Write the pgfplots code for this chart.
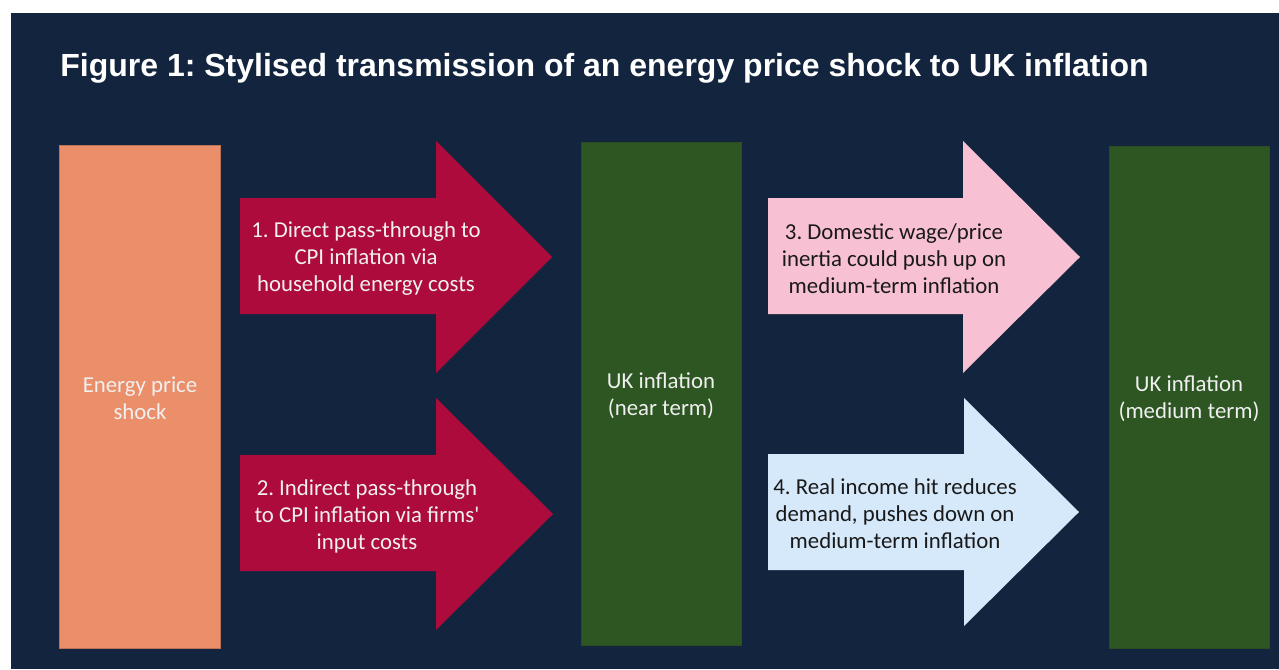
\documentclass[border=0pt]{standalone}
\usepackage{pgfplots}
\pgfplotsset{compat=1.18}
\usepackage{fontspec}
\setmainfont{Carlito}
\newfontfamily\titlefont{Liberation Sans}
\frenchspacing
\definecolor{navy}{HTML}{13253E}
\definecolor{orangebox}{HTML}{EB8F6B}
\definecolor{redarrow}{HTML}{AD0B3B}
\definecolor{greenbox}{HTML}{2D5623}
\definecolor{pinkarrow}{HTML}{F8C1D3}
\definecolor{bluearrow}{HTML}{D5E9FB}
\begin{document}
\begin{tikzpicture}
\begin{axis}[
  scale only axis, width=639.5pt, height=334.5pt,
  xmin=0, xmax=1279, ymin=0, ymax=669, y dir=reverse,
  hide axis, clip=false,
]
% background
\addplot[fill=white, draw=none] coordinates {(0,0) (1279,0) (1279,669) (0,669)} -- cycle;
\addplot[fill=navy, draw=none] coordinates {(11,13) (1279,13) (1279,669) (11,669)} -- cycle;
% boxes
\addplot[fill=orangebox, draw=orangebox!80!black, line width=0.4pt] coordinates {(59,145) (220,145) (220,648) (59,648)} -- cycle;
\addplot[fill=greenbox, draw=greenbox!90!black, line width=0.4pt] coordinates {(581,142) (741,142) (741,645) (581,645)} -- cycle;
\addplot[fill=greenbox, draw=greenbox!90!black, line width=0.4pt] coordinates {(1109,146) (1269,146) (1269,648) (1109,648)} -- cycle;
% arrows
\addplot[fill=redarrow, draw=none] coordinates {(240,198) (436,198) (436,141) (552,257) (436,373) (436,314) (240,314)} -- cycle;
\addplot[fill=redarrow, draw=none] coordinates {(240,455) (436,455) (436,398) (553,514) (436,630) (436,571) (240,571)} -- cycle;
\addplot[fill=pinkarrow, draw=none] coordinates {(768,198) (963,198) (963,141) (1080,257) (963,373) (963,314) (768,314)} -- cycle;
\addplot[fill=bluearrow, draw=none] coordinates {(768,454) (964,454) (964,398) (1079,512) (964,626) (964,570) (768,570)} -- cycle;
% texts
\node[anchor=base west, text=white, font=\titlefont\bfseries\fontsize{16}{19}\selectfont, inner sep=0pt] at (axis cs:60,76) {Figure 1: Stylised transmission of an energy price shock to UK inflation};
\begin{scope}[every node/.style={align=center, font=\fontsize{11.4}{13.5}\selectfont, inner sep=0pt}]
\node[text=white!94!black] at (axis cs:140,398) {Energy price\\shock};
\node[text=white!94!black] at (axis cs:661,396) {UK inflation\\(near term)};
\node[text=white!94!black] at (axis cs:1189,399) {UK inflation\\(medium term)};
\node[text=white!94!black] at (axis cs:366,259) {1. Direct pass-through to\\CPI inflation via\\household energy costs};
\node[text=white!94!black] at (axis cs:367,516) {2. Indirect pass-through\\to CPI inflation via firms{\addfontfeatures{Ligatures=TeXOff}'}\\input costs};
\node[text=black!90] at (axis cs:894,259) {3. Domestic wage/price\\inertia could push up on\\medium-term inflation};
\node[text=black!90] at (axis cs:895,514) {4. Real income hit reduces\\demand, pushes down on\\medium-term inflation};
\end{scope}
\end{axis}
\end{tikzpicture}
\end{document}
